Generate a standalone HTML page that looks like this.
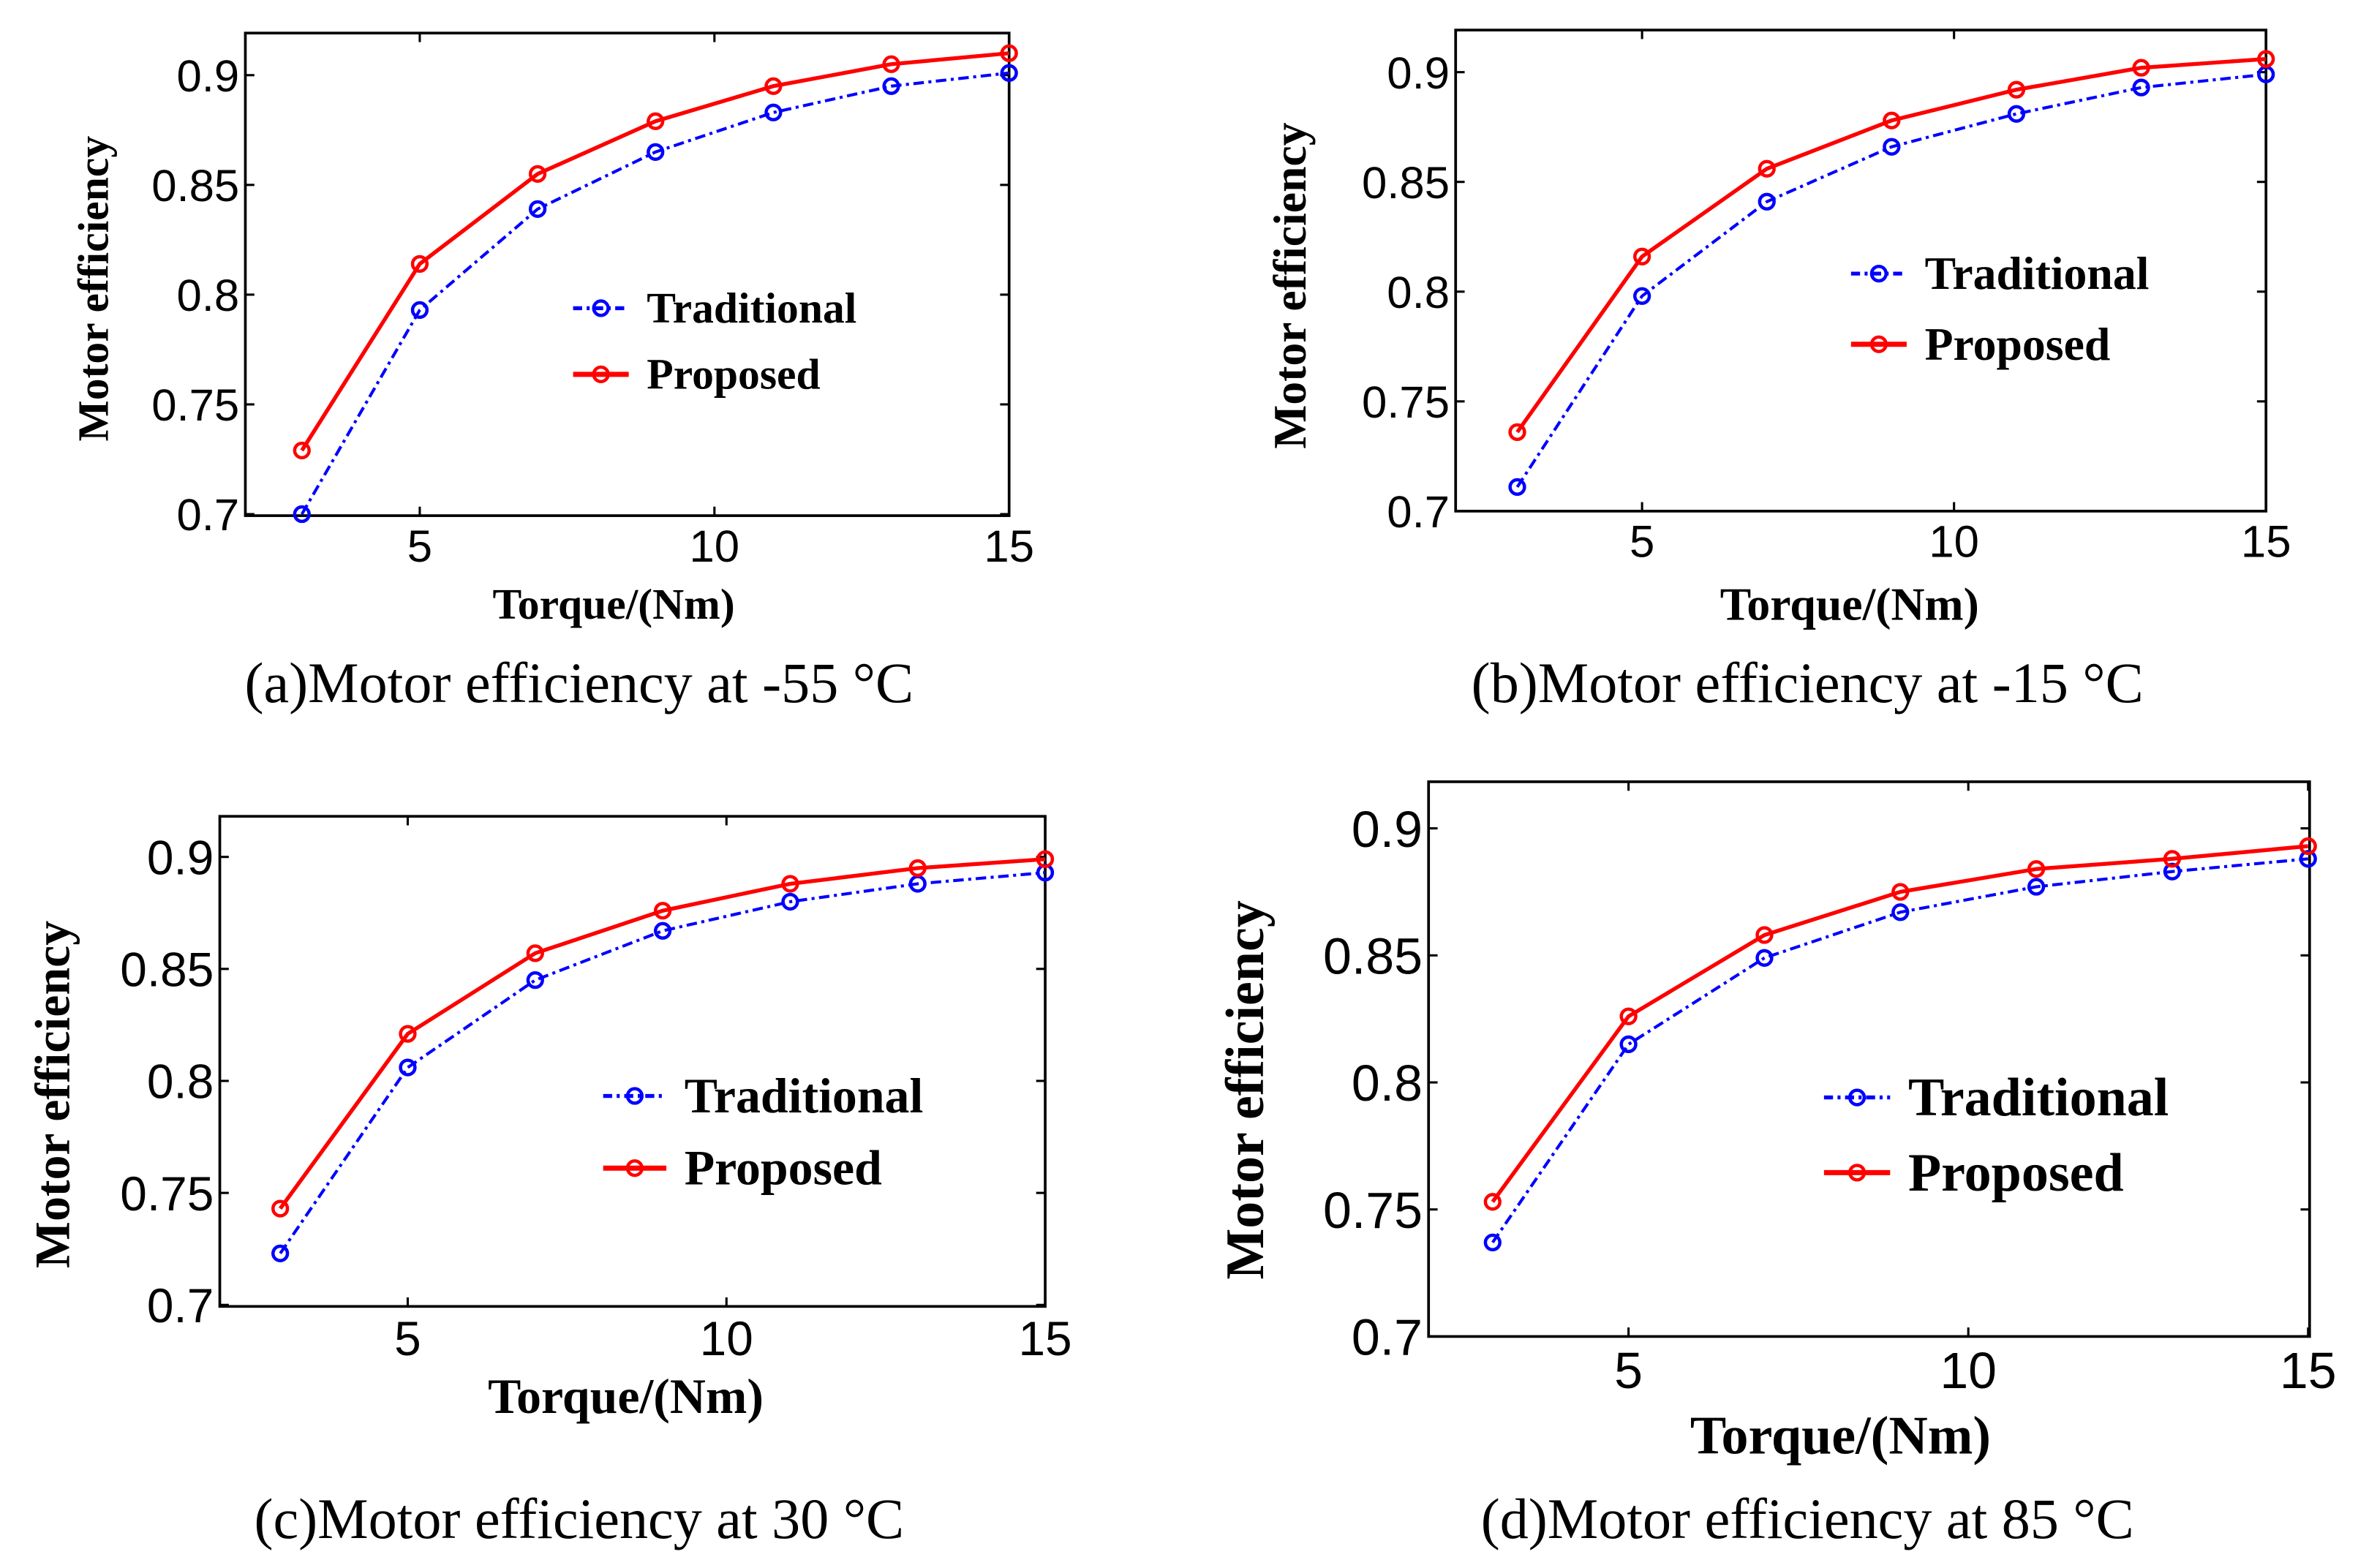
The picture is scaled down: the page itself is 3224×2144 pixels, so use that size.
<!DOCTYPE html>
<html><head><meta charset="utf-8">
<style>
html,body{margin:0;padding:0;background:#fff;}
svg{display:block;}
.tick{font-family:"Liberation Sans",Arial,sans-serif;fill:#000;}
.lab{font-family:"Liberation Serif","Times New Roman",serif;font-weight:bold;fill:#000;}
.cap{font-family:"Liberation Serif","Times New Roman",serif;fill:#000;}
</style></head>
<body>
<svg id="fig" width="3224" height="2144" viewBox="0 0 1568 1043" xmlns="http://www.w3.org/2000/svg"></svg>
<script>
const torque = [3, 5, 7, 9, 11, 13, 15];
const xTicks = [5, 10, 15];
const yTicks = [0.7, 0.75, 0.8, 0.85, 0.9];
const yTickLabels = ["0.7", "0.75", "0.8", "0.85", "0.9"];
const tradA = [0.700, 0.793, 0.839, 0.865, 0.883, 0.895, 0.901];
const propA = [0.729, 0.814, 0.855, 0.879, 0.895, 0.905, 0.910];
const tradB = [0.711, 0.798, 0.841, 0.866, 0.881, 0.893, 0.899];
const propB = [0.736, 0.816, 0.856, 0.878, 0.892, 0.902, 0.906];
const tradC = [0.723, 0.806, 0.845, 0.867, 0.880, 0.888, 0.893];
const propC = [0.743, 0.821, 0.857, 0.876, 0.888, 0.895, 0.899];
const tradD = [0.737, 0.815, 0.849, 0.867, 0.877, 0.883, 0.888];
const propD = [0.753, 0.826, 0.858, 0.875, 0.884, 0.888, 0.893];
const captions = ["(a)Motor efficiency at -55 °C","(b)Motor efficiency at -15 °C","(c)Motor efficiency at 30 °C","(d)Motor efficiency at 85 °C"];

const NS = "http://www.w3.org/2000/svg";
const svg = document.getElementById("fig");
function mk(tag, attrs, parent){
  const e = document.createElementNS(NS, tag);
  for (const k in attrs) e.setAttribute(k, attrs[k]);
  (parent||svg).appendChild(e);
  return e;
}
const panels = [
  {id:"a", L:163,R:671,T:22,B:343, y9:50, y7:342, x5:279, x15:671, trad:tradA, prop:propA, fs:30, ylx:62, yly:192, xlx:408, xly:402, lfs:29, capx:385, capy:455, lgx:381, lgw:37, lgy1:205, lgy2:249},
  {id:"b", L:968,R:1507,T:20,B:340, y9:48, y7:340, x5:1092, x15:1507, trad:tradB, prop:propB, fs:30, ylx:858, yly:190, xlx:1230, xly:402, lfs:31, capx:1202, capy:455, lgx:1231, lgw:37, lgy1:182, lgy2:229},
  {id:"c", L:146,R:695,T:543,B:869, y9:570, y7:868, x5:271, x15:695, trad:tradC, prop:propC, fs:32, ylx:35, yly:728, xlx:416, xly:929, lfs:33, capx:385, capy:1011, lgx:401, lgw:42, lgy1:729, lgy2:777},
  {id:"d", L:950,R:1536,T:520,B:889, y9:551, y7:889, x5:1083, x15:1535, trad:tradD, prop:propD, fs:34, ylx:828, yly:725, xlx:1224, xly:955, lfs:36, capx:1202, capy:1011, lgx:1213, lgw:44, lgy1:730, lgy2:780}
];
panels.forEach((p, i) => {
  const g = mk("g", {});
  
  
  const xs = v => p.x5 + (v - 5) * (p.x15 - p.x5) / 10;
  const ys = v => p.y7 - (v - 0.7) * (p.y7 - p.y9) / 0.2;
  const box = mk("rect", {x:p.L, y:p.T, width:p.R-p.L, height:p.B-p.T, fill:"none", stroke:"#000", "stroke-width":1.8}, g);
  
  
  xTicks.forEach(t => {
    const x = xs(t);
    mk("line", {x1:x, x2:x, y1:p.B, y2:p.B-6, stroke:"#000", "stroke-width":1.5}, g);
    mk("line", {x1:x, x2:x, y1:p.T, y2:p.T+6, stroke:"#000", "stroke-width":1.5}, g);
    const tx = mk("text", {x:x, y:p.B + p.fs*0.95 + 2, "text-anchor":"middle", "font-size":p.fs, class:"tick"}, g);
    tx.textContent = t;
    
    
  });
  yTicks.forEach((t, j) => {
    const y = ys(t);
    mk("line", {x1:p.L, x2:p.L+6, y1:y, y2:y, stroke:"#000", "stroke-width":1.5}, g);
    mk("line", {x1:p.R, x2:p.R-6, y1:y, y2:y, stroke:"#000", "stroke-width":1.5}, g);
    const ty = mk("text", {x:p.L - 4, y:y + p.fs*0.36, "text-anchor":"end", "font-size":p.fs, class:"tick"}, g);
    ty.textContent = yTickLabels[j];
    
    
  });
  const series = [
    {d:p.trad, c:"#0000ff", dash:"7,3,2,3", w:2, name:"traditional"},
    {d:p.prop, c:"#ff0000", dash:"", w:2.6, name:"proposed"}
  ];
  series.forEach(s => {
    const pts = torque.map((t, k) => xs(t) + "," + ys(s.d[k])).join(" ");
    const pl = mk("polyline", {points:pts, fill:"none", stroke:s.c, "stroke-width":s.w, "stroke-dasharray":s.dash}, g);
    
    
    torque.forEach((t, k) => {
      const c = mk("circle", {cx:xs(t), cy:ys(s.d[k]), r:4.8, fill:"none", stroke:s.c, "stroke-width":2.2}, g);
      
      
    });
  });
  const lg = mk("g", {}, g);
  
  
  [[p.lgy1, "#0000ff", "6,3,2,3", "Traditional", 2.6], [p.lgy2, "#ff0000", "", "Proposed", 3.4]].forEach(e => {
    const eg = mk("g", {}, lg);
    
    
    mk("line", {x1:p.lgx, x2:p.lgx+p.lgw, y1:e[0], y2:e[0], stroke:e[1], "stroke-width":e[4], "stroke-dasharray":e[2]}, eg);
    mk("circle", {cx:p.lgx+p.lgw/2, cy:e[0], r:4.8, fill:"none", stroke:e[1], "stroke-width":2.2}, eg);
    const t = mk("text", {x:p.lgx+p.lgw+12, y:e[0]+p.lfs*0.33, "font-size":p.lfs, class:"lab"}, eg);
    t.textContent = e[3];
  });
  const yl = mk("text", {x:p.ylx, y:p.yly, "text-anchor":"middle", "font-size":p.lfs, class:"lab", transform:"rotate(-90 " + p.ylx + " " + p.yly + ")", dy:p.lfs*0.33}, g);
  yl.textContent = "Motor efficiency";
  
  
  const xl = mk("text", {x:p.xlx, y:p.xly + p.lfs*0.33, "text-anchor":"middle", "font-size":p.lfs, class:"lab"}, g);
  xl.textContent = "Torque/(Nm)";
  
  
  const cp = mk("text", {x:p.capx, y:p.capy + 12, "text-anchor":"middle", "font-size":38, class:"cap"}, g);
  cp.textContent = captions[i];
  
  
});
</script>
</body></html>
